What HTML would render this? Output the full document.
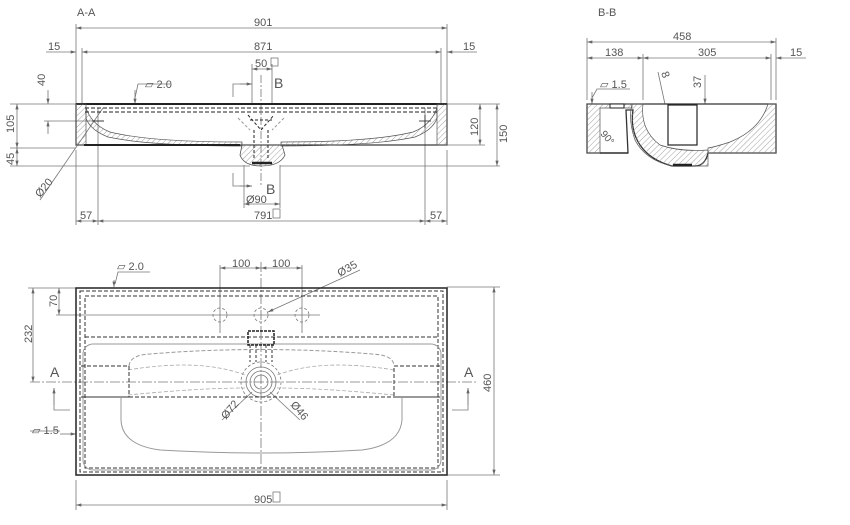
<!DOCTYPE html>
<html><head><meta charset="utf-8"><style>
html,body{margin:0;padding:0;background:#fff;width:850px;height:525px;overflow:hidden}
svg{display:block}
text{font-family:"Liberation Sans",sans-serif;font-size:11px;fill:#555}
</style></head><body>
<svg width="850" height="525" viewBox="0 0 850 525" xmlns="http://www.w3.org/2000/svg">
<defs>
<pattern id="h" width="4" height="4" patternUnits="userSpaceOnUse" patternTransform="rotate(45)"><line x1="0" y1="0" x2="0" y2="4" stroke="#888" stroke-width="0.8"/></pattern>
<marker id="a" viewBox="0 0 10 6" refX="10" refY="3" markerWidth="8" markerHeight="4" orient="auto-start-reverse"><path d="M0,0L10,3L0,6z" fill="#666"/></marker>
</defs>
<g stroke="#777" stroke-width="0.8" fill="none">
<!-- ===== A-A ===== -->
<line x1="76" y1="24" x2="76" y2="104"/><line x1="447" y1="24" x2="447" y2="104"/>
<line x1="76" y1="28" x2="447" y2="28" marker-start="url(#a)" marker-end="url(#a)"/>
<line x1="82" y1="48" x2="82" y2="104"/><line x1="441" y1="48" x2="441" y2="104"/>
<line x1="82" y1="52" x2="441" y2="52" marker-start="url(#a)" marker-end="url(#a)"/>
<line x1="46" y1="52" x2="76" y2="52" marker-end="url(#a)"/><line x1="477" y1="52" x2="447" y2="52" marker-end="url(#a)"/>
<line x1="252" y1="64" x2="252" y2="104"/><line x1="272" y1="64" x2="272" y2="104"/>
<line x1="252" y1="69" x2="272" y2="69" marker-start="url(#a)" marker-end="url(#a)"/>
<polyline points="233,97 233,84 252,84"/><line x1="240" y1="84" x2="252" y2="84" marker-end="url(#a)"/>
<polyline points="233,173 233,186 252,186"/><line x1="240" y1="186" x2="252" y2="186" marker-end="url(#a)"/>
<line x1="261" y1="75" x2="261" y2="185" stroke-dasharray="8,2,2,2"/>
<line x1="10" y1="104" x2="76" y2="104"/><line x1="10" y1="148" x2="76" y2="148"/><line x1="10" y1="166" x2="250" y2="166"/>
<line x1="17" y1="104" x2="17" y2="148" marker-start="url(#a)" marker-end="url(#a)"/>
<line x1="17" y1="148" x2="17" y2="166" marker-start="url(#a)" marker-end="url(#a)"/>
<line x1="48" y1="90" x2="48" y2="104" marker-end="url(#a)"/><line x1="48" y1="121" x2="48" y2="134" marker-start="url(#a)"/>
<line x1="44" y1="121" x2="104" y2="121"/>
<line x1="40" y1="200" x2="103" y2="108"/>
<polyline points="170,84 138,84 135,98" /><line x1="135" y1="90" x2="135" y2="104" marker-end="url(#a)"/>
<line x1="76" y1="150" x2="76" y2="225"/><line x1="98" y1="108" x2="98" y2="225"/><line x1="425" y1="108" x2="425" y2="225"/><line x1="447" y1="150" x2="447" y2="225"/>
<line x1="76" y1="221" x2="98" y2="221" marker-start="url(#a)" marker-end="url(#a)"/>
<line x1="98" y1="221" x2="425" y2="221" marker-start="url(#a)" marker-end="url(#a)"/>
<line x1="425" y1="221" x2="447" y2="221" marker-start="url(#a)" marker-end="url(#a)"/>
<line x1="244" y1="165" x2="244" y2="208"/><line x1="280" y1="165" x2="280" y2="208"/>
<line x1="244" y1="204" x2="280" y2="204" marker-start="url(#a)" marker-end="url(#a)"/>
<line x1="447" y1="104" x2="500" y2="104"/><line x1="447" y1="145" x2="485" y2="145"/><line x1="280" y1="166" x2="500" y2="166"/>
<line x1="480" y1="104" x2="480" y2="145" marker-start="url(#a)" marker-end="url(#a)"/>
<line x1="497" y1="104" x2="497" y2="166" marker-start="url(#a)" marker-end="url(#a)"/>
</g>
<!-- body A-A -->
<g stroke="#222" fill="none">
<rect x="76" y="104" width="371" height="41" stroke-width="1.2" stroke="#333"/>
<line x1="76" y1="104" x2="447" y2="104" stroke-width="2" stroke="#222"/>
<path d="M76,104 H86 V145 H76 Z" fill="url(#h)" stroke="#555" stroke-width="0.7"/>
<path d="M447,104 H437 V145 H447 Z" fill="url(#h)" stroke="#555" stroke-width="0.7"/>
<path d="M86,108 Q92,125 110,132 Q150,142 242,142 V146 Q150,146 108,137 Q90,130 86,118 Z" fill="url(#h)" stroke="#555" stroke-width="0.7"/>
<path d="M437,108 Q431,125 413,132 Q373,142 281,142 V146 Q373,146 415,137 Q433,130 437,118 Z" fill="url(#h)" stroke="#555" stroke-width="0.7"/>
<path d="M242,145 H282 L285,155 Q280,166 261,166 Q244,166 240,155 Z" fill="url(#h)" stroke="#555" stroke-width="0.8"/>
<line x1="85" y1="108" x2="438" y2="108" stroke-dasharray="4,2" stroke-width="1"/>
<line x1="85" y1="112" x2="438" y2="112" stroke-dasharray="4,2" stroke-width="1"/>
<line x1="84" y1="145" x2="240" y2="145" stroke-width="2"/>
<line x1="252" y1="163" x2="272" y2="163" stroke-width="2.5"/>
<path d="M248,115 L261,130 L274,115 M250,120 L272,120" stroke-dasharray="3,2"/>
<line x1="254" y1="130" x2="254" y2="160" stroke-dasharray="3,2"/><line x1="268" y1="130" x2="268" y2="160" stroke-dasharray="3,2"/>
<path d="M238,118 L250,130 M284,118 L272,130" stroke="#999" stroke-dasharray="3,2"/>
<line x1="92" y1="121" x2="104" y2="121" stroke-width="0.8"/><line x1="419" y1="121" x2="431" y2="121" stroke-width="0.8"/><line x1="425" y1="115" x2="425" y2="128" stroke-width="0.8"/>
</g>
<!-- ===== B-B ===== -->
<g stroke="#777" stroke-width="0.8" fill="none">
<line x1="587" y1="38" x2="587" y2="100"/><line x1="776" y1="38" x2="776" y2="100"/><line x1="643" y1="54" x2="643" y2="100"/><line x1="771" y1="54" x2="771" y2="100"/>
<line x1="587" y1="42" x2="776" y2="42" marker-start="url(#a)" marker-end="url(#a)"/>
<line x1="587" y1="58" x2="643" y2="58" marker-start="url(#a)" marker-end="url(#a)"/>
<line x1="643" y1="58" x2="771" y2="58" marker-start="url(#a)" marker-end="url(#a)"/>
<line x1="806" y1="58" x2="776" y2="58" marker-end="url(#a)"/>
<line x1="705" y1="75" x2="705" y2="104" marker-end="url(#a)"/><line x1="705" y1="119" x2="705" y2="128" marker-start="url(#a)"/>
<line x1="655" y1="119" x2="710" y2="119"/>
<line x1="658" y1="72" x2="668" y2="118"/>
<polyline points="630,89 597,89 592,98"/><line x1="592" y1="92" x2="592" y2="104" marker-end="url(#a)"/>
</g>
<g>
<path d="M587,104 H776 V153 H708 Q705,166 695,166 H672 Q650,160 640,145 Q630,130 633,110 L626,110 L628,153 H587 Z" fill="#fff" stroke="#333" stroke-width="1.3"/>
<path d="M587,104 H632 V108 H600 V153 H587 Z" fill="url(#h)" stroke="#555" stroke-width="0.7"/>
<path d="M632,104 H643 Q640,130 660,145 Q680,152 708,150 V166 H672 Q645,160 635,140 Q628,120 632,104 Z" fill="url(#h)" stroke="#555" stroke-width="0.7"/>
<path d="M776,104 H768 Q760,130 730,142 Q715,147 708,148 V153 H776 Z" fill="url(#h)" stroke="#555" stroke-width="0.7"/>
<rect x="668" y="105" width="29" height="40" fill="#fff" stroke="#222" stroke-width="1.2"/>
<rect x="610" y="104" width="14" height="4" fill="#fff" stroke="#222"/>
<line x1="673" y1="165" x2="692" y2="165" stroke="#222" stroke-width="2.5"/>
<line x1="600" y1="153" x2="628" y2="153" stroke="#222" stroke-width="1.2"/>
</g>
<!-- ===== Plan ===== -->
<g stroke="#777" stroke-width="0.8" fill="none">
<line x1="447" y1="287" x2="500" y2="287"/><line x1="447" y1="475" x2="500" y2="475"/>
<line x1="494" y1="287" x2="494" y2="475" marker-start="url(#a)" marker-end="url(#a)"/>
<line x1="76" y1="480" x2="76" y2="510"/><line x1="447" y1="480" x2="447" y2="510"/>
<line x1="76" y1="505" x2="447" y2="505" marker-start="url(#a)" marker-end="url(#a)"/>
<line x1="28" y1="288" x2="76" y2="288"/>
<line x1="33" y1="288" x2="33" y2="382" marker-start="url(#a)" marker-end="url(#a)"/>
<line x1="59" y1="288" x2="59" y2="315" marker-start="url(#a)" marker-end="url(#a)"/>
<line x1="56" y1="315" x2="320" y2="315"/>
<line x1="30" y1="382" x2="478" y2="382" stroke-dasharray="10,2,2,2"/>
<line x1="261" y1="262" x2="261" y2="470" stroke-dasharray="10,2,2,2"/>
<line x1="220" y1="265" x2="220" y2="333"/><line x1="302" y1="265" x2="302" y2="333"/>
<line x1="220" y1="268" x2="261" y2="268" marker-start="url(#a)" marker-end="url(#a)"/>
<line x1="261" y1="268" x2="302" y2="268" marker-start="url(#a)" marker-end="url(#a)"/>
<circle cx="220" cy="315" r="7" stroke-dasharray="3,2"/><circle cx="261" cy="315" r="7" stroke-dasharray="3,2"/><circle cx="302" cy="315" r="7" stroke-dasharray="3,2"/>
<line x1="360" y1="270" x2="268" y2="312" marker-end="url(#a)"/>
<polyline points="150,272 118,272 115,284"/><line x1="114" y1="280" x2="114" y2="287" marker-end="url(#a)"/>
<polyline points="70,410 54,410 54,388" /><line x1="54" y1="405" x2="54" y2="388" marker-end="url(#a)"/>
<polyline points="452,410 468,410 468,388" /><line x1="468" y1="405" x2="468" y2="388" marker-end="url(#a)"/>
<polyline points="30,431 60,431"/><line x1="60" y1="434" x2="76" y2="434" marker-end="url(#a)"/>
<circle cx="261" cy="382" r="20" stroke-dasharray="3,2"/><circle cx="261" cy="382" r="15"/><circle cx="261" cy="382" r="11"/><circle cx="261" cy="382" r="7"/>
<line x1="222" y1="420" x2="252" y2="392"/><line x1="300" y1="420" x2="270" y2="392"/>
<path d="M128,370 Q200,358 245,375 M394,370 Q322,358 277,375 M128,395 Q200,388 245,388 M394,395 Q322,388 277,388" stroke="#aaa" stroke-dasharray="4,2"/>
</g>
<g fill="none">
<rect x="76" y="288" width="371" height="187" stroke="#222" stroke-width="1.5"/>
<rect x="80" y="291" width="363" height="181" stroke="#333" stroke-dasharray="4,2"/>
<rect x="85" y="296" width="353" height="172" stroke="#333" stroke-dasharray="4,2"/>
<line x1="85" y1="337" x2="438" y2="337" stroke="#333" stroke-dasharray="4,2"/>
<rect x="83" y="344" width="358" height="126" rx="10" stroke="#999"/>
<path d="M81,366 H129 V397 H81 M440,366 H394 V397 H440" stroke="#333" stroke-dasharray="4,2"/>
<line x1="81" y1="397" x2="440" y2="397" stroke="#333" stroke-dasharray="4,2"/>
<path d="M129,366 Q130,355 150,354 Q260,345 372,354 Q394,355 394,366" stroke="#999" stroke-dasharray="4,2"/>
<path d="M121,397 V420 Q122,445 160,450 Q261,456 362,450 Q400,445 402,420 V397" stroke="#999"/>
<path d="M248,331 H274 V345 H248 Z" stroke="#222" stroke-width="1.5" stroke-dasharray="3,1"/>
<path d="M250,345 V362 M256,345 V362 M266,345 V362 M272,345 V362" stroke="#333" stroke-dasharray="3,2"/>
</g>
<!-- text -->
<text x="77" y="16">A-A</text>
<text x="254" y="26">901</text>
<text x="254" y="50">871</text>
<text x="48" y="50">15</text><text x="463" y="50">15</text>
<text x="255" y="67">50</text><rect x="271" y="58" width="7" height="8" fill="none" stroke="#666" stroke-width="0.7"/>
<text x="274" y="88" style="font-size:14px">B</text><text x="266" y="194" style="font-size:14px">B</text>
<text x="145" y="88">▱ 2.0</text>
<text x="246" y="203">Ø90</text>
<text x="80" y="219">57</text><text x="430" y="219">57</text>
<text x="254" y="219">791</text><rect x="273" y="209" width="7" height="9" fill="none" stroke="#666" stroke-width="0.7"/>
<text transform="translate(45,86) rotate(-90)">40</text>
<text transform="translate(14,133) rotate(-90)">105</text>
<text transform="translate(14,165) rotate(-90)">45</text>
<text transform="translate(40,198) rotate(-50)">Ø20</text>
<text transform="translate(478,136) rotate(-90)">120</text>
<text transform="translate(507,143) rotate(-90)">150</text>
<text x="598" y="16">B-B</text>
<text x="673" y="40">458</text><text x="605" y="56">138</text><text x="698" y="56">305</text><text x="790" y="56">15</text>
<text x="600" y="88">▱ 1.5</text>
<text transform="translate(701,88) rotate(-90)">37</text>
<text transform="translate(661,73) rotate(70)">8</text>
<text transform="translate(600,134) rotate(50)" style="font-size:10px">90°</text>
<text x="117" y="270">▱ 2.0</text>
<text x="232" y="267">100</text><text x="272" y="267">100</text>
<text transform="translate(340,277) rotate(-30)">Ø35</text>
<text transform="translate(57,307) rotate(-90)">70</text>
<text transform="translate(32,343) rotate(-90)">232</text>
<text x="50" y="377" style="font-size:14px">A</text><text x="464" y="377" style="font-size:14px">A</text>
<text transform="translate(491,392) rotate(-90)">460</text>
<text x="32" y="434">▱ 1.5</text>
<text transform="translate(226,420) rotate(-50)">Ø72</text>
<text transform="translate(290,405) rotate(50)">Ø46</text>
<text x="254" y="503">905</text><rect x="273" y="492" width="7" height="10" fill="none" stroke="#666" stroke-width="0.7"/>
</svg>
</body></html>
